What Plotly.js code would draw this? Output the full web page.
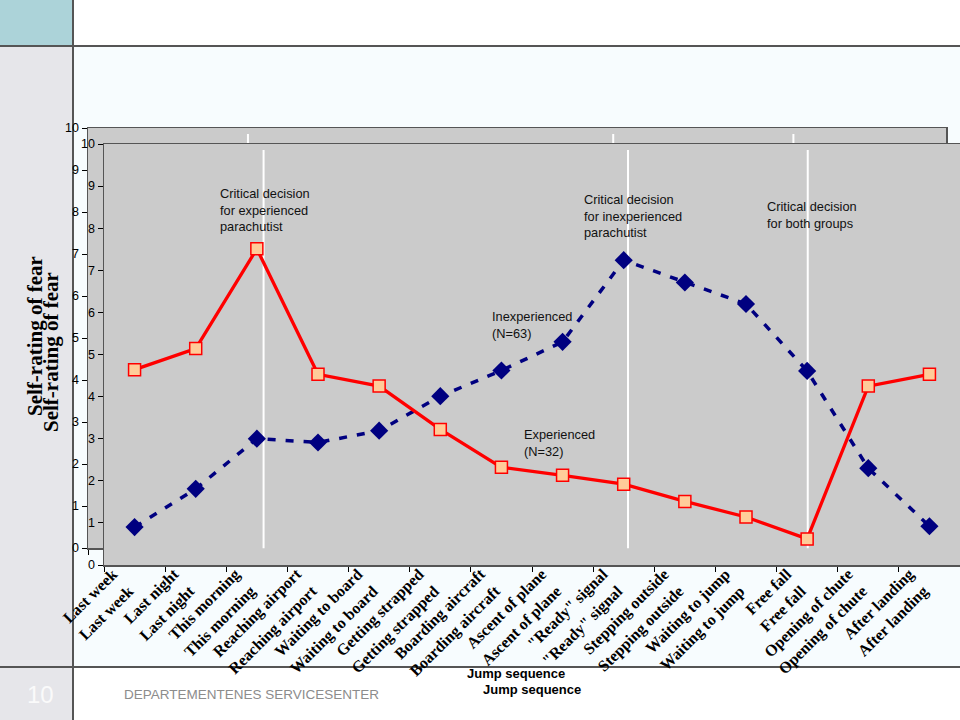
<!DOCTYPE html>
<html>
<head>
<meta charset="utf-8">
<script src="https://cdn.plot.ly/plotly-3.0.1.min.js"></script>
<style>
html,body{margin:0;padding:0;background:#f7fcfe;}
#chart{width:960px;height:720px;}
</style>
</head>
<body>
<div id="chart"></div>
<script>
// ---- data ----
const categories = ["Last week", "Last night", "This morning", "Reaching airport", "Waiting to board",
  "Getting strapped", "Boarding aircraft", "Ascent of plane", "\"Ready\" signal", "Stepping outside",
  "Waiting to jump", "Free fall", "Opening of chute", "After landing"];
const experienced = [4.64, 5.14, 7.51, 4.53, 4.25, 3.22, 2.32, 2.13, 1.92, 1.51, 1.14, 0.62, 4.25, 4.53];
const inexperienced = [0.90, 1.81, 3.00, 2.91, 3.19, 4.01, 4.62, 5.30, 7.24, 6.71, 6.20, 4.61, 2.30, 0.92];
const decisionPositions = [2.11, 8.07, 11.01];
const decisionLabels = [
  "Critical decision<br>for experienced<br>parachutist",
  "Critical decision<br>for inexperienced<br>parachutist",
  "Critical decision<br>for both groups"
];
const seriesLabels = ["Experienced<br>(N=32)", "Inexperienced<br>(N=63)"];
const yTitle = "Self-rating of fear";
const xTitle = "Jump sequence";
const footerText = "DEPARTEMENTENES SERVICESENTER";
const slideNumber = "10";

// ---- layout helpers ----
const W = 960, H = 720;
const px = v => v / W;
const py = v => 1 - v / H;

const tickFont = {family: "Liberation Serif, Times New Roman, serif", size: 16, color: "#000", weight: "bold"};
const numFont = {family: "Liberation Sans, Arial, sans-serif", size: 12.5, color: "#000"};

function catAxis(domain, anchor) {
  return {
    domain: domain, anchor: anchor, type: "category",
    categoryorder: "array", categoryarray: categories,
    range: [-0.5, categories.length - 0.5],
    showgrid: false, zeroline: false,
    showline: true, linecolor: "#555", linewidth: 1.5, mirror: true,
    ticks: "outside", tickson: "boundaries", ticklen: 5, tickcolor: "#000",
    tickangle: -45, tickfont: tickFont, ticklabelstandoff: 9, ticklabelshift: -6,
    fixedrange: true
  };
}
function valAxis(domain, anchor) {
  return {
    domain: domain, anchor: anchor, range: [0, 10], dtick: 1,
    showgrid: false, zeroline: false,
    showline: true, linecolor: "#555", linewidth: 1.5, mirror: true,
    ticks: "outside", ticklen: 5, tickcolor: "#000",
    tickfont: numFont, fixedrange: true
  };
}

const traces = [
  // ghost (back) copy of the chart frame
  {x: categories, y: categories.map(() => null), xaxis: "x", yaxis: "y",
   mode: "lines", showlegend: false, hoverinfo: "skip"},
  {x: categories, y: inexperienced, xaxis: "x2", yaxis: "y2", name: "Inexperienced (N=63)",
   mode: "lines+markers", showlegend: false,
   line: {color: "#000080", width: 3.5, dash: "8px,10px"},
   marker: {symbol: "diamond", size: 14, color: "#000080"}},
  {x: categories, y: experienced, xaxis: "x2", yaxis: "y2", name: "Experienced (N=32)",
   mode: "lines+markers", showlegend: false,
   line: {color: "#ff0000", width: 3.3},
   marker: {symbol: "square", size: 12, color: "#ffcc99", line: {color: "#ff0000", width: 1.5}}}
];

const shapes = [
  // slide background pieces (outside the plot areas)
  {type: "rect", xref: "paper", yref: "paper", x0: 0, x1: px(73), y0: py(0), y1: py(46), fillcolor: "#acd3d9", line: {width: 0}, layer: "below"},
  {type: "rect", xref: "paper", yref: "paper", x0: px(73), x1: 1, y0: py(0), y1: py(46), fillcolor: "#ffffff", line: {width: 0}, layer: "below"},
  {type: "rect", xref: "paper", yref: "paper", x0: 0, x1: px(73), y0: py(46), y1: 0, fillcolor: "#e6e6ea", line: {width: 0}, layer: "below"},
  {type: "rect", xref: "paper", yref: "paper", x0: px(73), x1: 1, y0: py(667), y1: 0, fillcolor: "#ffffff", line: {width: 0}, layer: "below"},
  {type: "line", xref: "paper", yref: "paper", x0: px(73), x1: px(73), y0: 0, y1: 1, line: {color: "#555", width: 2}, layer: "below"},
  {type: "line", xref: "paper", yref: "paper", x0: 0, x1: 1, y0: py(46), y1: py(46), line: {color: "#555", width: 2}, layer: "below"},
  {type: "line", xref: "paper", yref: "paper", x0: 0, x1: 1, y0: py(667), y1: py(667), line: {color: "#555", width: 2}, layer: "below"}
];
// critical decision lines, drawn on both the ghost and the front copy
decisionPositions.forEach(p => {
  shapes.push({type: "line", xref: "x", yref: "y", x0: p, x1: p, y0: 0.4, y1: 9.86, line: {color: "#ffffff", width: 2}, layer: "below"});
  shapes.push({type: "line", xref: "x2", yref: "y2", x0: p, x1: p, y0: 0.4, y1: 9.86, line: {color: "#ffffff", width: 2}, layer: "below"});
});

const annFont = {family: "Liberation Sans, Arial, sans-serif", size: 12.8, color: "#111"};
function note(text, left, top) {
  return {text: text, xref: "paper", yref: "paper", x: px(left), y: py(top),
    xanchor: "left", yanchor: "top", align: "left", showarrow: false, font: annFont};
}
const annotations = [
  note(decisionLabels[0], 218, 184),
  note(decisionLabels[1], 582, 190),
  note(decisionLabels[2], 765, 197),
  note(seriesLabels[1], 490, 307),
  note(seriesLabels[0], 522, 425),
  // y titles (ghost + front)
  {text: yTitle, xref: "paper", yref: "paper", x: px(35), y: py(336), textangle: -90,
   xanchor: "center", yanchor: "middle", showarrow: false,
   font: {family: "Liberation Serif, Times New Roman, serif", size: 21, color: "#000", weight: "bold"}},
  {text: yTitle, xref: "paper", yref: "paper", x: px(51), y: py(352), textangle: -90,
   xanchor: "center", yanchor: "middle", showarrow: false,
   font: {family: "Liberation Serif, Times New Roman, serif", size: 21, color: "#000", weight: "bold"}},
  // x titles (ghost + front)
  {text: xTitle, xref: "paper", yref: "paper", x: px(516), y: py(673), xanchor: "center", yanchor: "middle", showarrow: false,
   font: {family: "Liberation Sans, Arial, sans-serif", size: 13, color: "#000", weight: "bold"}},
  {text: xTitle, xref: "paper", yref: "paper", x: px(532), y: py(689), xanchor: "center", yanchor: "middle", showarrow: false,
   font: {family: "Liberation Sans, Arial, sans-serif", size: 13, color: "#000", weight: "bold"}},
  // footer
  {text: footerText, xref: "paper", yref: "paper", x: px(122), y: py(694), xanchor: "left", yanchor: "middle", showarrow: false,
   font: {family: "Liberation Sans, Arial, sans-serif", size: 13.5, color: "#8c8c8c"}},
  {text: slideNumber, xref: "paper", yref: "paper", x: px(40), y: py(694), xanchor: "center", yanchor: "middle", showarrow: false,
   font: {family: "Liberation Sans, Arial, sans-serif", size: 24, color: "#fafafa"}}
];

const ghostX = [px(88), px(946)], ghostY = [py(548), py(128)];
const frontX = [px(104), 1], frontY = [py(565), py(144)];

const layout = {
  width: W, height: H,
  margin: {l: 0, r: 0, t: 0, b: 0},
  paper_bgcolor: "#f7fcfe",
  plot_bgcolor: "#cbcbcb",
  showlegend: false,
  xaxis: catAxis(ghostX, "y"),
  yaxis: valAxis(ghostY, "x"),
  xaxis2: catAxis(frontX, "y2"),
  yaxis2: valAxis(frontY, "x2"),
  shapes: shapes,
  annotations: annotations
};

Plotly.newPlot("chart", traces, layout, {displayModeBar: false, staticPlot: true});
</script>
</body>
</html>
